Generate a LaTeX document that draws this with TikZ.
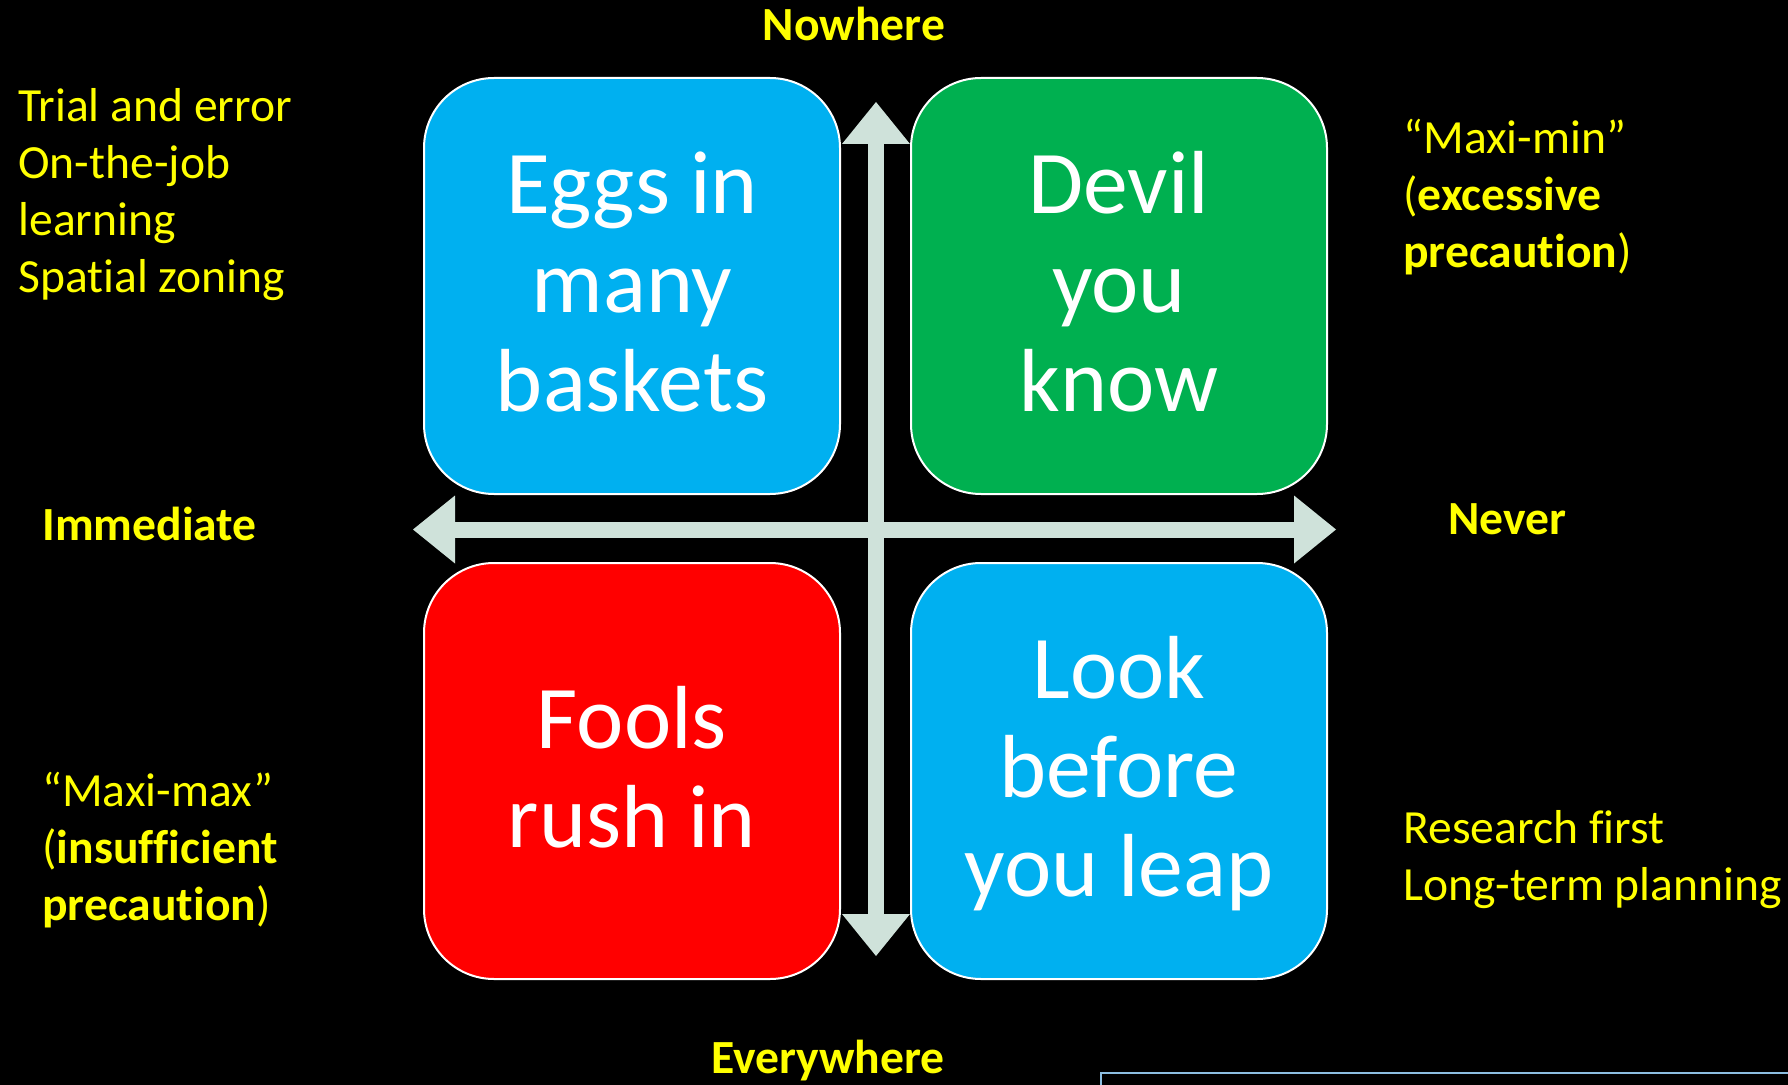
\documentclass[tikz,border=0pt]{standalone}
\usepackage{fontspec}
\setmainfont{Carlito}[Ligatures=NoCommon]
\usepackage{xcolor}
\usetikzlibrary{arrows.meta,positioning}
\definecolor{QuadBlue}{RGB}{0,176,240}
\definecolor{QuadGreen}{RGB}{0,176,80}
\definecolor{QuadRed}{RGB}{255,0,0}
\definecolor{AxisGrey}{RGB}{207,226,218}
\definecolor{NoteYellow}{RGB}{255,255,0}
\definecolor{FrameBlue}{RGB}{140,190,225}
\newcommand{\qtop}{\rule{0pt}{41.6pt}}
\newcommand{\qbot}{\rule[-14.9pt]{0pt}{14.9pt}}

\begin{document}
\begin{tikzpicture}[x=0.5pt, y=-0.5pt,
    quad/.style={draw=white, line width=1pt, rounded corners=35pt,
        minimum width=208pt, minimum height=208pt, inner sep=0pt,
        text=white, align=center, font=\fontsize{44.8}{49.5}\selectfont},
    axis/.style={AxisGrey, line width=8pt,
        {Triangle[length=21pt,width=34pt,line width=0pt]}-{Triangle[length=21pt,width=34pt,line width=0pt]}},
    pole/.style={text=NoteYellow, inner sep=0pt, font=\fontsize{23.8}{28.5}\selectfont\bfseries},
    note/.style={text=NoteYellow, inner sep=0pt, align=left, font=\fontsize{23.8}{28.5}\selectfont}]
    \clip (0,0) rectangle (1788,1085);
    \fill[black] (0,0) rectangle (1788,1085);
    % quadrants
    \node[quad, fill=QuadBlue] (eggs) at (632,286) {\qtop Eggs in\\many\\baskets\qbot};
    \node[quad, fill=QuadGreen] (devil) at (1119,286) {\qtop Devil\\you\\know\qbot};
    \node[quad, fill=QuadRed] (fools) at (632,771) {\qtop Fools\\rush in\qbot};
    \node[quad, fill=QuadBlue] (look) at (1119,771) {\qtop Look\\before\\you leap\qbot};
    % axes
    \coordinate (west) at (413,529.5);
    \coordinate (east) at (1336,529.5);
    \coordinate (north) at (876,102);
    \coordinate (south) at (876,956);
    \draw[axis] (west) -- (east);
    \draw[axis] (north) -- (south);
    % axis ends
    \node[pole, anchor=base] (nowhere) at (854,41) {Nowhere};
    \node[pole, anchor=base] (everywhere) at (828,1073) {Everywhere};
    \node[pole, anchor=base west] (immediate) at (42,540) {Immediate};
    \node[pole, anchor=base west] (never) at (1448,534) {Never};
    % side notes (base = last line)
    \node[note, anchor=base west] (trial) at (18,293) {Trial and error\\On-the-job\\learning\\Spatial zoning};
    \node[note, anchor=base west] (maximin) at (1403,268) {“Maxi-min”\\(\textbf{excessive}\\\textbf{precaution})};
    \node[note, anchor=base west] (maximax) at (42,920) {“Maxi-max”\\(\textbf{insufficient}\\\textbf{precaution})};
    \node[note, anchor=base west] (research) at (1403,900) {Research first\\Long-term planning};
    \draw[FrameBlue, line width=1pt] (1101,1073) rectangle (1800,1110);
\end{tikzpicture}
\end{document}
